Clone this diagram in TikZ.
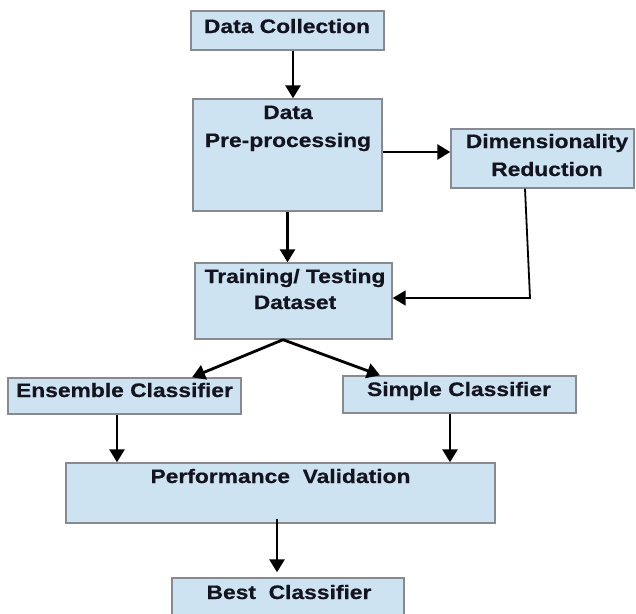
\documentclass[tikz,border=0pt]{standalone}
\usepackage{fontspec}
\newfontfamily\lblfont{Liberation Sans}[FakeStretch=1.17, BoldFeatures={FakeBold=0.6}]
\usetikzlibrary{arrows.meta}
\definecolor{boxfill}{RGB}{206,227,242}
\definecolor{boxline}{RGB}{135,138,142}
\definecolor{inkcol}{RGB}{20,20,32}

\begin{document}
\begin{tikzpicture}[x=1pt,y=-1pt,
  stage/.style={draw=boxline, fill=boxfill, line width=1.4pt, inner sep=0pt},
  stagetext/.style={font=\lblfont\bfseries\fontsize{19.5}{28}\selectfont,
    text=inkcol, anchor=base, inner sep=0pt},
  flow/.style={line width=2.8pt, draw=black, -{Triangle[length=13pt,width=15pt]}},
  feedback/.style={line width=1.8pt, draw=black, -{Triangle[length=13pt,width=15pt]}}]

  \clip (0,0) rectangle (636,613);
  \fill[white] (0,0) rectangle (636,613);

  % stage boxes
  \node[stage, minimum width=193pt, minimum height=39pt]  (dc) at (287.5,30.5) {};
  \node[stage, minimum width=189pt, minimum height=112pt] (pp) at (287.5,155) {};
  \node[stage, minimum width=183pt, minimum height=59pt]  (dr) at (542.5,158.5) {};
  \node[stage, minimum width=197pt, minimum height=76pt]  (td) at (293.5,301) {};
  \node[stage, minimum width=233pt, minimum height=36pt]  (ec) at (124.5,396) {};
  \node[stage, minimum width=233pt, minimum height=37pt]  (sc) at (459.5,394.5) {};
  \node[stage, minimum width=429pt, minimum height=60pt]  (pv) at (280.5,493) {};
  \node[stage, minimum width=232pt, minimum height=48pt]  (bc) at (288,602) {};

  % stage labels
  \node[stagetext] (dcT) at (287,33) {Data Collection};
  \node[stagetext] (ppT) at (288,119) {\begin{tabular}[t]{@{}c@{}}Data\\Pre-processing\end{tabular}};
  \node[stagetext] (drT) at (547,148) {\begin{tabular}[t]{@{}c@{}}Dimensionality\\Reduction\end{tabular}};
  \node[stagetext] (tdT) at (295,283) {\begin{tabular}[t]{@{}c@{}}Training/ Testing\\[-2pt]Dataset\end{tabular}};
  \node[stagetext] (ecT) at (124.5,397) {Ensemble Classifier};
  \node[stagetext] (scT) at (459,396) {Simple Classifier};
  \node[stagetext] (pvT) at (280.5,483) {Performance\ \ Validation};
  \node[stagetext] (bcT) at (289,599) {Best\ \ Classifier};

  % connectors
  \draw[flow] ([xshift=5.5pt]dc.south) -- ([xshift=5.5pt]pp.north);
  \draw[flow] ([yshift=3pt]pp.east) -- ([yshift=3pt]pp.east -| dr.west);
  \draw[flow] (pp.south) -- (pp.south |- td.north);
  \coordinate (turn) at (530,298);
  \draw[feedback] ([xshift=-17.5pt]dr.south) -- (turn) -- (turn -| td.east);
  \coordinate (split) at ([xshift=-10.5pt]td.south);
  \draw[flow] (split) -- ([xshift=67.5pt]ec.north);
  \draw[flow] (split) -- ([xshift=-79.5pt]sc.north);
  \draw[flow] ([xshift=-7.5pt]ec.south) -- ([xshift=-7.5pt]ec.south |- pv.north);
  \draw[flow] ([xshift=-9.5pt]sc.south) -- ([xshift=-9.5pt]sc.south |- pv.north);
  \draw[flow] ([xshift=-3.5pt,yshift=5pt]pv.south) -- ([xshift=-3.5pt,yshift=5pt]pv.south |- bc.north);
\end{tikzpicture}
\end{document}
